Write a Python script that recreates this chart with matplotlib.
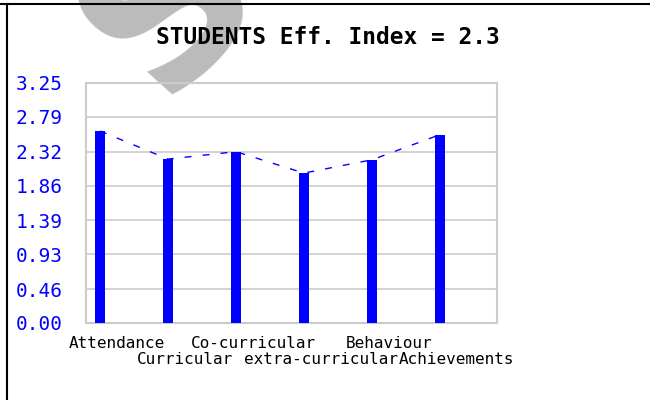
import matplotlib
matplotlib.use("Agg")
import matplotlib.pyplot as plt
from matplotlib.lines import Line2D
import numpy as np

categories = ["Attendance", "Curricular", "Co-curricular", "extra-curricular", "Behaviour", "Achievements"]
scores = [2.60, 2.22, 2.32, 2.03, 2.21, 2.55]
yticks = [0.00, 0.46, 0.93, 1.39, 1.86, 2.32, 2.79, 3.25]
title = "STUDENTS Eff. Index = 2.3"

fig = plt.figure(figsize=(6.5, 4.0), dpi=100)
fig.patch.set_facecolor("white")

# watermark (partially visible large "S")
fig.text(170 / 650, 1 - 4 / 400, "S", fontsize=155, fontweight="bold", color="#bbbbbb",
         rotation=48, ha="center", va="center", zorder=-5, family="DejaVu Sans")

ax = fig.add_axes([0.1323, 0.1925, 0.6323, 0.60])
ax.set_facecolor("none")

x = np.arange(len(categories))
ax.plot(x, scores, color="#0000ff", lw=1.0, linestyle=(0, (5, 8)), zorder=2)
ax.bar(x, scores, width=0.14, color="#0000ff", zorder=3)

ax.set_xlim(-0.206, 5.84)
ax.set_ylim(0, 3.25)
ax.set_yticks(yticks)
ax.set_yticklabels([f"{v:.2f}" for v in yticks], color="#0000ff",
                   family="DejaVu Sans Mono", fontsize=14)
ax.yaxis.grid(True, color="#cccccc", lw=1.2)
ax.set_axisbelow(True)

# alternating two-row category labels: even on major ticks, odd on minor ticks
ax.set_xticks(x[0::2] + 0.25)
ax.set_xticklabels(categories[0::2], family="DejaVu Sans Mono", fontsize=11.5, color="black")
ax.set_xticks(x[1::2] + 0.25, minor=True)
ax.set_xticklabels(categories[1::2], minor=True, family="DejaVu Sans Mono", fontsize=11.5,
                   color="black")
ax.tick_params(axis="both", which="both", length=0)
ax.tick_params(axis="y", pad=17)
ax.tick_params(axis="x", which="major", pad=9)
ax.tick_params(axis="x", which="minor", pad=21)

for s in ax.spines.values():
    s.set_color("#cccccc")
    s.set_linewidth(1.5)

fig.text(0.505, 0.905, title, ha="center", va="center", fontsize=16.5,
         fontweight="bold", family="DejaVu Sans Mono", color="black")

# outer border (top and left)
fig.add_artist(Line2D([0, 1], [1 - 4 / 400, 1 - 4 / 400], transform=fig.transFigure,
                      color="black", lw=1.5))
fig.add_artist(Line2D([6.5 / 650, 6.5 / 650], [0, 1 - 4 / 400], transform=fig.transFigure,
                      color="black", lw=1.5))

fig.savefig("out.png", dpi=100)
